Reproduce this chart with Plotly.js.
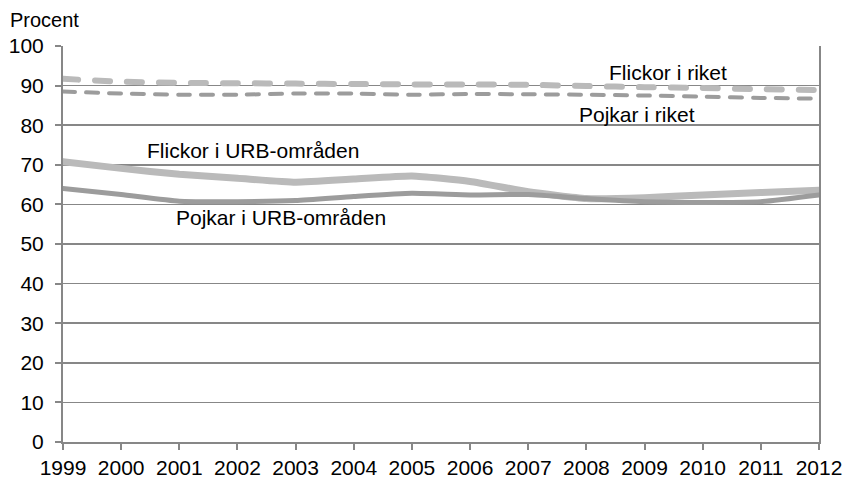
<!DOCTYPE html>
<html>
<head>
<meta charset="utf-8">
<script src="https://cdn.plot.ly/plotly-3.0.1.min.js"></script>
<style>
  html, body { margin: 0; padding: 0; background: #fff; }
  #chart { width: 844px; height: 479px; }
  .scatterlayer path.js-line { stroke-linecap: round !important; }
</style>
</head>
<body>
<div id="chart"></div>
<script>
const years = [1999, 2000, 2001, 2002, 2003, 2004, 2005, 2006, 2007, 2008, 2009, 2010, 2011, 2012];
const flickorRiket = [91.7, 91.0, 90.7, 90.6, 90.5, 90.4, 90.3, 90.3, 90.2, 89.9, 89.6, 89.4, 89.1, 88.9];
const pojkarRiket  = [88.5, 88.0, 87.7, 87.7, 88.0, 88.0, 87.7, 87.9, 87.8, 87.7, 87.5, 87.2, 86.9, 86.7];
const flickorURB   = [70.8, 69.1, 67.6, 66.6, 65.6, 66.4, 67.2, 65.8, 63.2, 61.5, 61.7, 62.4, 63.0, 63.6];
const pojkarURB    = [64.0, 62.5, 60.8, 60.7, 61.0, 62.0, 62.8, 62.4, 62.5, 61.5, 60.7, 60.5, 60.7, 62.4];
const seriesNames  = ["Flickor i riket", "Pojkar i riket", "Flickor i URB-områden", "Pojkar i URB-områden"];
const yTicks = [0, 10, 20, 30, 40, 50, 60, 70, 80, 90, 100];

const lightGray = "#bababa";
const darkGray = "#9c9c9c";
const font = "Liberation Sans, Arial, sans-serif";

const traces = [
  { x: years, y: flickorURB, name: seriesNames[2], mode: "lines",
    line: { color: lightGray, width: 7, shape: "spline", smoothing: 0.5 } },
  { x: years, y: pojkarURB, name: seriesNames[3], mode: "lines",
    line: { color: darkGray, width: 5, shape: "spline", smoothing: 0.5 } },
  { x: years, y: flickorRiket, name: seriesNames[0], mode: "lines",
    line: { color: lightGray, width: 6, dash: "15px,17px", shape: "spline", smoothing: 0.5 } },
  { x: years, y: pojkarRiket, name: seriesNames[1], mode: "lines",
    line: { color: darkGray, width: 4, dash: "12px,11px", shape: "spline", smoothing: 0.5 } }
];

const layout = {
  width: 844, height: 479,
  margin: { l: 63, r: 25, t: 46, b: 37 },
  paper_bgcolor: "#fff", plot_bgcolor: "#fff",
  showlegend: false,
  font: { family: font, size: 21, color: "#000" },
  xaxis: {
    range: [1999, 2012], tickvals: years, ticktext: years.map(String),
    showgrid: false, zeroline: false,
    showline: true, linecolor: "#878787", linewidth: 2,
    ticks: "outside", ticklen: 6, tickwidth: 2, tickcolor: "#878787",
    tickfont: { family: font, size: 21, color: "#000" }
  },
  yaxis: {
    range: [0, 100], tickvals: yTicks,
    showgrid: true, gridcolor: "#878787", gridwidth: 1.5,
    zeroline: false,
    showline: true, linecolor: "#878787", linewidth: 2, mirror: true,
    ticks: "outside", ticklen: 6, tickwidth: 2, tickcolor: "#878787",
    ticklabelstandoff: 7,
    tickfont: { family: font, size: 21, color: "#000" }
  },
  annotations: [
    { xref: "paper", yref: "paper", x: -0.073, y: 1.0, yshift: 26, xanchor: "left", yanchor: "middle",
      text: "Procent", showarrow: false, font: { family: font, size: 20, color: "#000" } },
    { x: 2002.27, y: 73.7, text: seriesNames[2], showarrow: false,
      font: { family: font, size: 21, color: "#000" } },
    { x: 2002.75, y: 56.8, text: seriesNames[3], showarrow: false,
      font: { family: font, size: 21, color: "#000" } },
    { x: 2009.4, y: 93.4, text: seriesNames[0], showarrow: false,
      font: { family: font, size: 21, color: "#000" } },
    { x: 2008.87, y: 82.8, text: seriesNames[1], showarrow: false,
      font: { family: font, size: 21, color: "#000" } }
  ]
};

Plotly.newPlot("chart", traces, layout, { staticPlot: true, displayModeBar: false });
</script>
</body>
</html>
